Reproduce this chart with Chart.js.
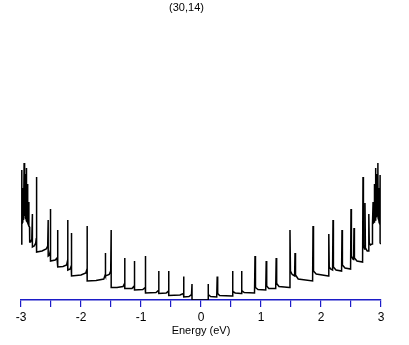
<!DOCTYPE html>
<html>
<head>
<meta charset="utf-8">
<script src="https://cdn.jsdelivr.net/npm/chart.js@4/dist/chart.umd.min.js"></script>
<style>
html,body{margin:0;padding:0;background:#fff;}
#wrap{width:409px;height:345px;}
</style>
</head>
<body>
<div id="wrap"><canvas id="c" width="409" height="345"></canvas></div>
<script>
// Title and axis text
const chartTitle = "(30,14)";
const xAxisTitle = "Energy (eV)";
const xTickValues = [-3, -2.5, -2, -1.5, -1, -0.5, 0, 0.5, 1, 1.5, 2, 2.5, 3];
const xTickLabels = ["-3", "", "-2", "", "-1", "", "0", "", "1", "", "2", "", "3"];

// Density of states, negative energy side (eV, arbitrary units)
const energyNeg = [-3.0,-2.99,-2.985,-2.985,-2.97,-2.966,-2.963,-2.952,-2.948,-2.945,-2.935,-2.93,-2.927,-2.915,-2.91,-2.907,-2.895,-2.89,-2.887,-2.875,-2.87,-2.867,-2.858,-2.855,
  -2.84,-2.82,-2.81,-2.81,-2.78,-2.755,-2.745,-2.74,-2.74,
  -2.65,-2.58,-2.555,-2.547,-2.547,-2.525,-2.512,-2.508,-2.508,
  -2.43,-2.4,-2.39,-2.387,-2.387,
  -2.3,-2.24,-2.225,-2.22,-2.22,-2.18,-2.163,-2.158,-2.158,
  -2.0,-1.92,-1.9,-1.897,-1.897,
  -1.75,-1.62,-1.598,-1.592,-1.592,-1.53,-1.505,-1.497,-1.497,
  -1.4,-1.3,-1.275,-1.27,-1.27,
  -1.15,-1.115,-1.108,-1.108,
  -0.97,-0.93,-0.925,-0.925,
  -0.75,-0.71,-0.703,-0.703,
  -0.58,-0.543,-0.537,-0.537,
  -0.35,-0.295,-0.287,-0.287,
  -0.2,-0.158,-0.15,-0.15];
const dosNeg = [56,57,130,76,78,112,80,82,137,84,85,126,82,81,132,79,78,116,77,76,98,74,73,58,
  58,61,86,53,54,57,62,123,48,
  49,51,54,80,44,45,49,91,39,
  40,42,46,70,33,
  33.5,35,39,80,30,31,34,67,24,
  25,27,31,74,19,
  19.5,21,25,47,24,25.5,29,70,12.5,
  12.5,13.5,16.5,42,11.5,
  11.5,14,39,10,
  10.5,12.5,44,7,
  7.5,9.5,29,6.5,
  7,9,29,4.5,
  5,6.5,23.5,3,
  3.5,5.5,16,0];

// Density of states, positive energy side (eV, arbitrary units)
const energyPos = [0.117,0.117,0.125,0.16,
  0.262,0.27,0.278,0.31,
  0.517,0.525,0.533,0.57,
  0.667,0.675,0.683,0.72,
  0.892,0.9,0.908,0.95,
  1.079,1.087,1.095,1.13,
  1.245,1.253,1.261,1.3,
  1.475,1.483,1.491,1.52,1.56,1.567,1.575,1.62,
  1.86,1.867,1.875,1.92,
  2.123,2.13,2.137,2.16,2.193,2.2,2.207,2.25,
  2.343,2.35,2.357,2.4,
  2.493,2.5,2.507,2.53,2.543,2.55,2.557,2.6,
  2.693,2.7,2.707,2.726,2.733,2.74,2.77,2.79,2.797,2.804,2.825,
  2.85,2.853,2.856,2.865,2.868,2.872,2.885,2.89,2.893,2.905,2.91,2.913,2.925,2.93,2.933,2.943,2.948,2.951,2.96,2.964,2.967,2.98,2.985,2.985,3.0];
const dosPos = [0,16,5.5,3.5,
  3,23.5,6.5,4.5,
  4,29,8.5,7,
  6.5,29,9.5,7.5,
  7,44,12.5,10.5,
  10,39,14,11.5,
  11.5,42,16.5,13.5,
  12.5,70,29,25.5,24,47,25,21,
  19,74,29,26,
  24,66,33,31,30,80,33,30,
  29,70,35,32,
  31,91,44,41,40.5,72,42,39,
  38,123,55,51,97,52,49,49,86,57,55,
  56,74,75,76,98,77,78,116,79,80,132,82,84,126,85,84,137,82,80,112,78,76,125,57,56];

const energy = energyNeg.concat(energyPos);
const dos = dosNeg.concat(dosPos);
const points = energy.map((e, i) => ({x: e, y: dos[i]}));

const axisBlue = '#1c1cc8';
const fontFam = '"Liberation Sans", Arial, sans-serif';

const titlePlugin = {
  id: 'topTitle',
  afterDraw(chart) {
    const ctx = chart.ctx;
    ctx.save();
    ctx.fillStyle = '#000';
    ctx.font = '11px ' + fontFam;
    ctx.textAlign = 'center';
    ctx.textBaseline = 'middle';
    ctx.fillText(chartTitle, 186.5, 8);
    ctx.restore();
  }
};

new Chart(document.getElementById('c'), {
  type: 'line',
  data: {
    datasets: [{
      data: points,
      borderColor: '#000',
      borderWidth: 1.5,
      pointRadius: 0,
      tension: 0,
      fill: false
    }]
  },
  options: {
    responsive: false,
    animation: false,
    layout: {padding: {left: 21, right: 28, top: 20, bottom: 0}},
    plugins: {legend: {display: false}, tooltip: {enabled: false}, title: {display: false}},
    scales: {
      x: {
        type: 'linear',
        min: -3, max: 3,
        afterFit(s) { s.height = 45; },
        afterBuildTicks(s) { s.ticks = xTickValues.map(v => ({value: v})); },
        ticks: {
          autoSkip: false, maxRotation: 0, padding: 3,
          color: '#000',
          font: {family: fontFam, size: 12},
          callback(v) { const i = xTickValues.indexOf(v); return i >= 0 ? xTickLabels[i] : ''; }
        },
        grid: {display: true, drawOnChartArea: false, drawTicks: true, tickLength: 7, color: axisBlue, lineWidth: 1.2},
        border: {display: true, color: axisBlue, width: 1.5},
        title: {display: true, text: xAxisTitle, color: '#000', font: {family: fontFam, size: 11}, padding: {top: 2, bottom: 7}}
      },
      y: {
        display: false,
        min: 0, max: 280
      }
    }
  },
  plugins: [titlePlugin]
});
</script>
</body>
</html>
